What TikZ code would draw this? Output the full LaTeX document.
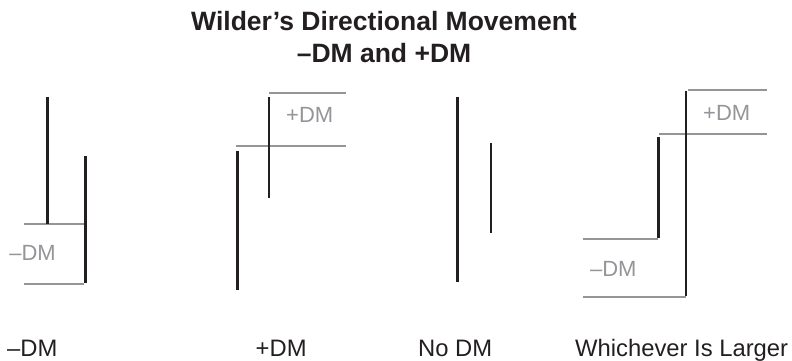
\documentclass[tikz,border=0pt]{standalone}
\usepackage{fontspec}
\setmainfont{Liberation Sans}
\definecolor{barblack}{HTML}{231F20}
\definecolor{dmgray}{HTML}{939598}
\tikzset{
  bar/.style={draw=barblack, line width=2.6pt},
  ref/.style={draw=dmgray, line width=2pt},
  dmlabel/.style={text=dmgray, font=\fontsize{22}{26}\selectfont, inner sep=0pt},
  caption/.style={text=barblack, font=\fontsize{23.8}{28}\selectfont, inner sep=0pt, anchor=base west},
  titletext/.style={text=barblack, font=\fontsize{26.5}{30}\selectfont\bfseries, inner sep=0pt, anchor=base}
}
\begin{document}
\begin{tikzpicture}[x=1pt,y=1pt]
\useasboundingbox (0,0) rectangle (792,360);
% title
\node[titletext] (t1) at (384,360-30) {Wilder’s Directional Movement};
\node[titletext] (t2) at (384,360-62) {–DM and +DM};
% panel 1: -DM
\draw[ref] (24,360-224) -- (84,360-224);
\draw[ref] (24,360-284) -- (84,360-284);
\draw[bar] (47.7,360-96.7) -- (47.7,360-224);
\draw[bar] (85.3,360-156) -- (85.3,360-283);
\node[dmlabel] (m1) at (32.5,360-253) {–DM};
% panel 2: +DM
\draw[ref] (269,360-93.3) -- (345.7,360-93.3);
\draw[ref] (236,360-145.7) -- (345.7,360-145.7);
\draw[bar] (237.3,360-151) -- (237.3,360-290);
\draw[bar] (269,360-96.7) -- (269,360-198.3);
\node[dmlabel] (p2) at (309.7,360-115) {+DM};
% panel 3: no DM
\draw[bar] (457.3,360-96.7) -- (457.3,360-281.7);
\draw[bar] (491,360-143.3) -- (491,360-232.7);
% panel 4: whichever is larger
\draw[ref] (688.3,360-90) -- (766.7,360-90);
\draw[ref] (659.3,360-134.3) -- (766.7,360-134.3);
\draw[ref] (583.3,360-239) -- (658,360-239);
\draw[ref] (583.3,360-296.7) -- (686,360-296.7);
\draw[bar] (658.3,360-137.3) -- (658.3,360-238.3);
\draw[bar] (686,360-90.7) -- (686,360-296);
\node[dmlabel] (p4) at (726.7,360-113.3) {+DM};
\node[dmlabel] (m4) at (613.3,360-269.3) {–DM};
% captions
\node[caption] (c1) at (7,360-356) {–DM};
\node[caption] (c2) at (255.5,360-356) {+DM};
\node[caption] (c3) at (418,360-356) {No DM};
\node[caption] (c4) at (575,360-356) {Whichever Is Larger};
\end{tikzpicture}
\end{document}
